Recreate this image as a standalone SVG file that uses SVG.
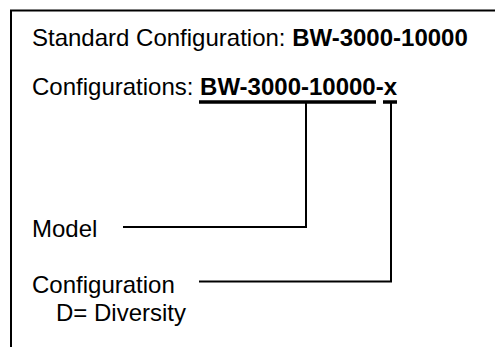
<svg xmlns="http://www.w3.org/2000/svg" width="495" height="347" viewBox="0 0 495 347">
<style>
text{font-family:"Liberation Sans",Arial,sans-serif;font-size:24px;fill:#000}
.b{font-weight:bold}
.frame{fill:none;stroke:#000;stroke-width:2}
.ul{stroke:#000;stroke-width:3.5;fill:none}
.conn{stroke:#000;stroke-width:2;fill:none}
</style>
<rect width="495" height="347" fill="#fff"/>
<g id="frame">
<path class="frame" d="M11,347 V10.5 H495"/>
</g>
<g id="standard">
<text x="32" y="45.5">Standard Configuration: <tspan class="b">BW-3000-10000</tspan></text>
</g>
<g id="configurations">
<text x="32" y="94.5">Configurations: <tspan class="b">BW-3000-10000-x</tspan></text>
<line class="ul" x1="199" y1="102" x2="376" y2="102"/>
<line class="ul" x1="383" y1="102" x2="397" y2="102"/>
</g>
<g id="model">
<text x="32" y="237">Model</text>
</g>
<g id="configuration">
<text x="32" y="292.5">Configuration</text>
<text x="56" y="320.5">D= Diversity</text>
</g>
<g id="connectors">
<path class="conn" d="M306,102 V227 H123"/>
<path class="conn" d="M391,102 V281.5 H199"/>
</g>
</svg>
